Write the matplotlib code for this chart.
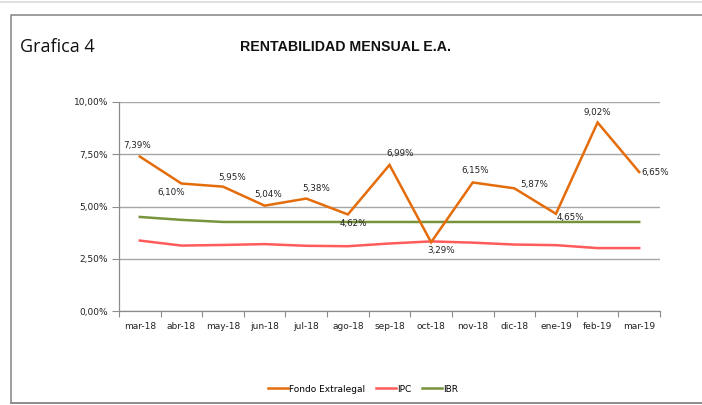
import matplotlib
matplotlib.use("Agg")
import matplotlib.pyplot as plt
from matplotlib.ticker import FuncFormatter, FixedLocator
from matplotlib.lines import Line2D

months = ["mar-18", "abr-18", "may-18", "jun-18", "jul-18", "ago-18", "sep-18",
          "oct-18", "nov-18", "dic-18", "ene-19", "feb-19", "mar-19"]
fondo = [7.39, 6.10, 5.95, 5.04, 5.38, 4.62, 6.99, 3.29, 6.15, 5.87, 4.65, 9.02, 6.65]
ipc = [3.37, 3.13, 3.16, 3.20, 3.12, 3.10, 3.23, 3.33, 3.27, 3.18, 3.15, 3.01, 3.01]
ibr = [4.50, 4.36, 4.26, 4.26, 4.26, 4.26, 4.26, 4.26, 4.26, 4.26, 4.26, 4.26, 4.26]
series_names = ["Fondo Extralegal", "IPC", "IBR"]
yticks = [0, 2.5, 5.0, 7.5, 10.0]

# label offsets in pixels (dx, dy) relative to points
label_offsets = [(-3, 11), (-10, -9), (9, 9), (3, 11), (10, 10), (5, -9), (11, 11),
                 (10, -8), (2, 12), (20, 4), (14, -4), (0, 10), (16, 0)]

colors = ["#E46C0A", "#FF5B5B", "#77933C"]
TF = ["DejaVu Sans"]

W, H = 702, 405
fig = plt.figure(figsize=(W / 100, H / 100), dpi=100)
fig.patch.set_facecolor("white")

# frame
fig.add_artist(Line2D([0, 1], [1 - 1.5 / H, 1 - 1.5 / H], color="#d9d9d9", lw=1.2, transform=fig.transFigure))
fig.add_artist(Line2D([11 / W, 11 / W, 1.0], [1 - 403 / H, 1 - 15 / H, 1 - 15 / H], color="#8c8c8c", lw=1.2, transform=fig.transFigure))
fig.add_artist(Line2D([11 / W, 1.0], [1 - 403 / H, 1 - 403 / H], color="#8c8c8c", lw=1.4, transform=fig.transFigure))

fig.text(20 / W, 1 - 47 / H, "Grafica 4", fontsize=13, family=["Open Sans"], va="center", ha="left", color="#111111")
fig.text(345 / W, 1 - 47 / H, "RENTABILIDAD MENSUAL E.A.", fontsize=10.2, family=["Liberation Sans"],
         weight="bold", va="center", ha="center", color="#111111")

ax = fig.add_axes([119 / W, 1 - 311 / H, (660 - 119) / W, (311 - 102) / H])
x = list(range(len(months)))
for vals, c, name, z in zip([fondo, ipc, ibr], colors, series_names, [3, 2, 2]):
    ax.plot(x, vals, color=c, lw=1.8, label=name, zorder=z, solid_joinstyle="miter")

for xi, v, (dx, dy) in zip(x, fondo, label_offsets):
    ax.annotate(f"{v:.2f}%".replace(".", ","), (xi, v), xytext=(dx * 0.72, dy * 0.72),
                textcoords="offset points", ha="center", va="center", fontsize=6.3,
                family=TF, color="#222222", zorder=5)

ax.set_xlim(-0.5, len(months) - 0.5)
ax.set_ylim(0, 10)
ax.set_yticks(yticks)
ax.yaxis.set_major_formatter(FuncFormatter(lambda v, p: f"{v:.2f}%".replace(".", ",")))
ax.xaxis.set_major_locator(FixedLocator([i - 0.5 for i in range(len(months) + 1)]))
ax.set_xticklabels([], minor=False)
ax.set_xticks(x, minor=True)
ax.set_xticklabels(months, minor=True)
ax.tick_params(axis="x", which="major", length=4, color="#8c8c8c", width=0.8)
ax.tick_params(axis="x", which="minor", length=0, pad=8, labelsize=6.5, labelcolor="#222222")
ax.tick_params(axis="y", length=5, color="#8c8c8c", width=0.8, labelsize=6.5, labelcolor="#222222", pad=3)
for lab in ax.get_xticklabels(minor=True) + ax.get_yticklabels():
    lab.set_family(TF)

ax.grid(axis="y", color="#a6a6a6", lw=1.0, zorder=0)
ax.set_axisbelow(True)
for s in ["top", "right"]:
    ax.spines[s].set_visible(False)
for s in ["left", "bottom"]:
    ax.spines[s].set_color("#8c8c8c")
    ax.spines[s].set_linewidth(0.9)

fig.legend(*ax.get_legend_handles_labels(), loc="center", bbox_to_anchor=(363 / W, 1 - 389 / H),
           ncol=3, frameon=False, handlelength=2.2, handletextpad=0.1,
           columnspacing=1.2, prop={"family": TF, "size": 6.5})

fig.savefig("out.png", dpi=100, facecolor="white")
